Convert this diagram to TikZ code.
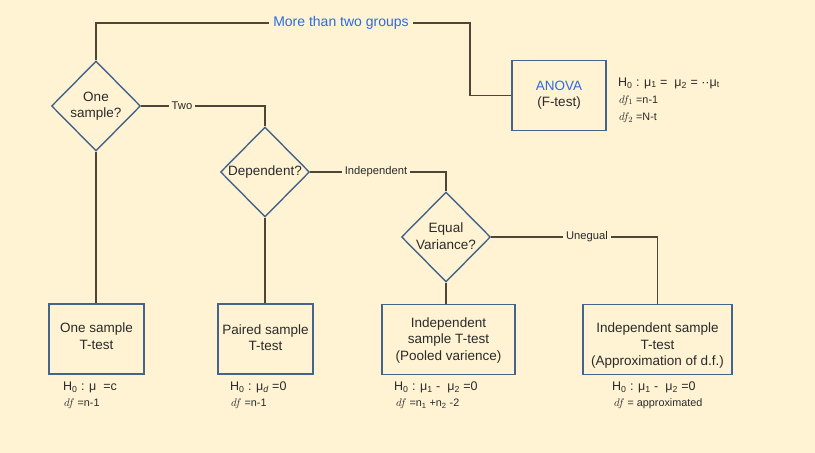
\documentclass[tikz,border=0pt]{standalone}
\usepackage{fontspec}
\setmainfont{Liberation Sans}
\usetikzlibrary{shapes.geometric}
\definecolor{bgc}{HTML}{FFF3D3}
\definecolor{lnc}{HTML}{4D4535}
\definecolor{bdc}{HTML}{44648C}
\definecolor{blc}{HTML}{2C6BE0}
\definecolor{txc}{HTML}{2A2A2A}
\begin{document}
\begin{tikzpicture}[x=1pt,y=-1pt,
  conn/.style={draw=lnc, line width=1.3pt},
  boxn/.style={draw=bdc, line width=1.4pt, rectangle, inner sep=0pt, minimum height=70pt},
  dmd/.style={draw=bdc, line width=1.4pt, diamond, inner sep=0pt, minimum width=89pt, minimum height=90pt},
  btxt/.style={text=txc, align=center, inner sep=0pt, font=\fontsize{13.5}{16.5}\selectfont},
  lbl/.style={text=txc, inner xsep=3pt, inner ysep=0pt, font=\fontsize{11.2}{13}\selectfont},
  fh/.style={text=txc, anchor=west, inner sep=0pt, font=\fontsize{12.5}{14}\selectfont},
  fd/.style={text=txc, anchor=west, inner sep=0pt, font=\fontsize{10.8}{12}\selectfont}
]
\fill[bgc] (0,0) rectangle (815,453);
\useasboundingbox (0,0) rectangle (815,453);

% diamonds
\node[dmd] (d1) at (96,106) {};
\node[btxt] (d1t) at (96,106) {One\\sample?};
\node[dmd] (d2) at (265,172) {};
\node[btxt] (d2t) at (265,172) {Dependent?};
\node[dmd] (d3) at (446,237) {};
\node[btxt] (d3t) at (446,236) {Equal\\Variance?};

% boxes
\node[boxn, minimum width=94pt] (anova) at (559,95.5) {};
\node[btxt] (anovat) at (559,95) {\textcolor{blc}{ANOVA}\\(F-test)};
\node[boxn, minimum width=95pt] (box1) at (96.5,339) {};
\node[btxt] (box1t) at (96.5,336) {One sample\\T-test};
\node[boxn, minimum width=95pt] (box2) at (265.5,339) {};
\node[btxt] (box2t) at (265.5,337.5) {Paired sample\\T-test};
\node[boxn, minimum width=133pt] (box3) at (448.5,339.5) {};
\node[btxt] (box3t) at (448.5,340.5) {Independent\\sample T-test\\(Pooled varience)};
\node[boxn, minimum width=149pt] (box4) at (657.5,339.5) {};
\node[btxt] (box4t) at (657.5,346) {Independent sample\\T-test\\(Approximation of d.f.)};

% labels
\node[lbl, text=blc, inner xsep=4pt, font=\fontsize{14}{16}\selectfont] (lmore) at (341,23) {More than two groups};
\node[lbl] (ltwo) at (182,106) {Two};
\node[lbl] (lind) at (376,172) {Independent};
\node[lbl] (luneq) at (587,237) {Unegual};
\coordinate (c1) at (470,23);

% connectors
\draw[conn] (d1.north) |- (lmore.west);
\draw[conn] (lmore.east) -- (c1) |- (anova.west);
\draw[conn] (d1.east) -- (ltwo.west);
\draw[conn] (ltwo.east) -| (d2.north);
\draw[conn] (d2.east) -- (lind.west);
\draw[conn] (lind.east) -| (d3.north);
\draw[conn] (d3.east) -- (luneq.west);
\draw[conn] (luneq.east) -| (box4.north);
\draw[conn] (d1.south) -- (d1.south |- box1.north);
\draw[conn] (d2.south) -- (d2.south |- box2.north);
\draw[conn] (d3.south) -- (d3.south |- box3.north);

% formulas
\node[fh] (fa1) at (618,83) {H\textsubscript{0} : μ\textsubscript{1} =\ \ μ\textsubscript{2} = ··μ\textsubscript{t}};
\node[fd] (fa2) at (619,100.5) {$df_1$ =n-1};
\node[fd] (fa3) at (619,118) {$df_2$ =N-t};

\node[fh] (f11) at (63,387) {H\textsubscript{0} : μ\ \ =c};
\node[fd] (f12) at (64,404) {$df$ =n-1};
\node[fh] (f21) at (230,387) {H\textsubscript{0} : μ\textsubscript{\itshape d} =0};
\node[fd] (f22) at (231,404) {$df$ =n-1};
\node[fh] (f31) at (394,387) {H\textsubscript{0} : μ\textsubscript{1} -\ \ μ\textsubscript{2} =0};
\node[fd] (f32) at (396,404) {$df$ =n\textsubscript{1} +n\textsubscript{2} -2};
\node[fh] (f41) at (612,387) {H\textsubscript{0} : μ\textsubscript{1} -\ \ μ\textsubscript{2} =0};
\node[fd] (f42) at (614,404) {$df$ = approximated};
\end{tikzpicture}
\end{document}
